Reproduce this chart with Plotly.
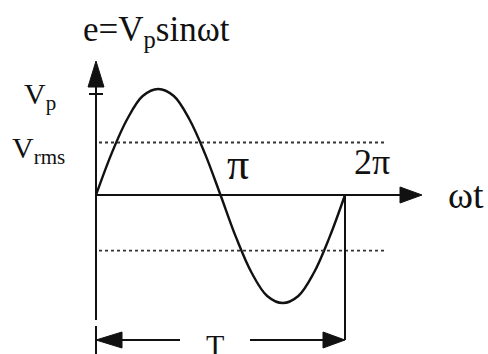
import math
import plotly.graph_objects as go

# Waveform samples: phase in eighths of pi, instantaneous e in units of Vp
phase_eighths = [0, 1, 2, 3, 4, 5, 6, 7, 8, 9, 10, 11, 12, 13, 14, 15, 16]
e_values = [0, 0.41, 0.75, 0.98, 1.05, 0.98, 0.75, 0.41, 0,
            -0.42, -0.77, -1.0, -1.07, -1.0, -0.77, -0.42, 0]
rms_levels = [0.52, -0.55]
peak_level = 1.0

title_text = "e=V<sub>p</sub>sinωt"
vp_label = "V<sub>p</sub>"
vrms_label = "V<sub>rms</sub>"
pi_label = "π"
two_pi_label = "2π"
x_label = "ωt"
period_label = "T"

wt = [k * math.pi / 8 for k in phase_eighths]
TWO_PI = 2 * math.pi

# figure geometry: pixels per radian (x) and per Vp (y)
W, H = 488, 354
X0_PX, Y0_PX = 96, 195
SX = 249 / TWO_PI
SY = 101.0
x_range = [-X0_PX / SX, (W - X0_PX) / SX]
y_range = [-(H - Y0_PX) / SY, Y0_PX / SY]


def dx(px):
    return px / SX


def dy(px):
    return px / SY


INK = "#111111"
SERIF = "'Liberation Serif', 'Times New Roman', serif"

fig = go.Figure()

# the sine wave
fig.add_trace(go.Scatter(x=wt, y=e_values, mode="lines",
                         line=dict(color=INK, width=2.4, shape="spline", smoothing=1.0),
                         hoverinfo="skip", showlegend=False))

shapes = []


def seg(x0, y0, x1, y1, width=2, dash=None, color=INK):
    line = dict(color=color, width=width)
    if dash:
        line["dash"] = dash
    shapes.append(dict(type="line", xref="x", yref="y", x0=x0, y0=y0, x1=x1, y1=y1,
                       line=line, layer="above"))


def tri(points):
    path = "M " + " L ".join(f"{px},{py}" for px, py in points) + " Z"
    shapes.append(dict(type="path", xref="x", yref="y", path=path,
                       fillcolor=INK, line=dict(color=INK, width=1), layer="above"))


# horizontal (ωt) axis with arrowhead
x_tip = dx(422 - X0_PX)
x_base = dx(400 - X0_PX)
seg(0, 0, x_base + dx(2), 0)
tri([(x_base, dy(8)), (x_tip, 0), (x_base, -dy(8))])

# vertical (e) axis with arrowhead and Vp tick
y_tip = dy(Y0_PX - 61)
y_base = dy(Y0_PX - 87)
seg(0, y_base + dy(2), 0, -dy(320 - Y0_PX))
seg(0, -dy(326 - Y0_PX), 0, y_range[0])
tri([(-dx(8), y_base), (0, y_tip), (dx(8), y_base)])
seg(-dx(7), peak_level, dx(7), peak_level, width=2)

# rms levels (dotted)
for lvl in rms_levels:
    seg(dx(3), lvl, dx(288), lvl, width=1.8, dash="dot", color="#333333")

# period marker: drop line at 2π and double arrow labelled T
y_T = -dy(340 - Y0_PX)
seg(TWO_PI, 0, TWO_PI, y_T)
seg(dx(26), y_T, dx(84), y_T)
seg(dx(154), y_T, TWO_PI - dx(22), y_T)
tri([(0, y_T), (dx(26), y_T + dy(8)), (dx(26), y_T - dy(8))])
tri([(TWO_PI, y_T), (TWO_PI - dx(22), y_T + dy(8)), (TWO_PI - dx(22), y_T - dy(8))])

annotations = []


def label(text, x, y, size, xanchor="center", yanchor="middle"):
    annotations.append(dict(text=text, x=x, y=y, xref="x", yref="y", showarrow=False,
                            xanchor=xanchor, yanchor=yanchor,
                            font=dict(family=SERIF, size=size, color=INK)))


label(title_text, -dx(15), dy(Y0_PX - 31), 35, xanchor="left")
label(vp_label, -dx(X0_PX - 22), dy(Y0_PX - 96), 30, xanchor="left")
label(vrms_label, -dx(X0_PX - 10), dy(Y0_PX - 150), 30, xanchor="left")
label(pi_label, math.pi + dx(17), dy(Y0_PX - 164), 44)
label(two_pi_label, TWO_PI + dx(27), dy(Y0_PX - 162), 36)
label(x_label, dx(466 - X0_PX), 0, 38)
label(period_label, dx(215 - X0_PX), -dy(326 - Y0_PX), 30, yanchor="top")

fig.update_layout(
    width=W, height=H,
    margin=dict(l=0, r=0, t=0, b=0),
    paper_bgcolor="white", plot_bgcolor="white",
    xaxis=dict(range=x_range, visible=False, fixedrange=True),
    yaxis=dict(range=y_range, visible=False, fixedrange=True),
    shapes=shapes, annotations=annotations,
    showlegend=False,
)

fig.write_html("out.html")
